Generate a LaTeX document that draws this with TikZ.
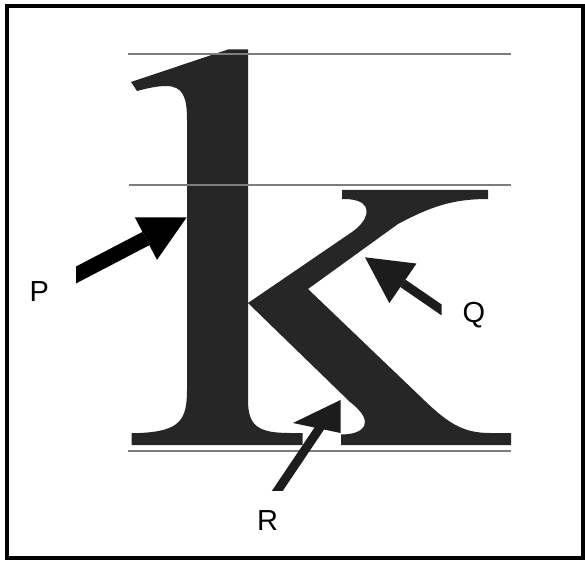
\documentclass[tikz,border=0pt]{standalone}
\usepackage{fontspec}
\setmainfont{Liberation Sans}
\usepackage{xcolor}
\usepackage{tikz}
\usetikzlibrary{arrows.meta}
\definecolor{ink}{RGB}{38,38,38}
\definecolor{guide}{RGB}{125,125,125}
\definecolor{pointer}{RGB}{28,28,28}

\begin{document}
\begin{tikzpicture}[x=1pt, y=-1pt,
  guideline/.style={draw=guide, line width=2pt},
  callout/.style={line width=#1, -{Triangle[length=46pt, width=48pt, line width=0pt]}},
  letter/.style={font=\fontsize{29}{29}\selectfont, inner sep=0pt, anchor=base}
]
\useasboundingbox (0,0) rectangle (585,561);
\draw[line width=4pt] (6.5,6.5) rectangle (582.5,558);

% the letter k
\fill[ink] (131,82) -- (228,49.5) -- (248,49.5) -- (248,303)
  -- (352,232) .. controls (368,221) and (372,206) .. (358,201)
  .. controls (352,199) and (346,199) .. (342,199)
  -- (342,190) -- (488,190) -- (488,199)
  .. controls (452,199) and (430,207) .. (398,224)
  -- (308,289) -- (425,401)
  .. controls (450,425) and (465,433) .. (490,433)
  -- (511,433) -- (511,445) -- (341,445) -- (341,434.5)
  .. controls (365,434.5) and (376,422) .. (350,402)
  -- (248,303) -- (248,400)
  .. controls (248,426) and (258,433) .. (290,433)
  -- (302.5,433) -- (302.5,445) -- (131.5,445) -- (131.5,433)
  -- (140,433) .. controls (180,431) and (187,420) .. (187,390)
  -- (187,120) .. controls (187,97) and (183,86) .. (166,86)
  .. controls (158,86) and (148,88) .. (137,91) -- cycle;

% guide lines
\draw[guideline] (128,54) -- (511,54);
\draw[guideline] (129,185) -- (511,185);
\draw[guideline] (128,451) -- (511,451);

% arrows
\coordinate (pTail) at (60,283.3);
\coordinate (pTip) at (186.7,217.3);
\coordinate (qTail) at (458,321.2);
\coordinate (qTip) at (365,257.3);
\coordinate (rTail) at (270.5,501);
\coordinate (rNeck) at (323,423);
\coordinate (rTip) at (340.5,400);
\coordinate (rBarb) at (293,423);
\coordinate (rCorner) at (340.5,433);

\begin{scope}
  \clip (76,0) rectangle (585,561);
  \draw[callout=15pt, black] (pTail) -- (pTip);
\end{scope}
\begin{scope}
  \clip (0,0) rectangle (441.7,561);
  \draw[callout=9pt, pointer] (qTail) -- (qTip);
\end{scope}
\begin{scope}
  \clip (0,0) rectangle (585,490);
  \draw[line width=9pt, pointer] (rTail) -- (rNeck);
\end{scope}
\fill[pointer] (rTip) -- (rBarb) -- (rCorner) -- cycle;

% labels
\node[letter] (pLabel) at (39.2,301.7) {P};
\node[letter] (qLabel) at (474,322) {Q};
\node[letter] (rLabel) at (267.5,530) {R};
\end{tikzpicture}
\end{document}
